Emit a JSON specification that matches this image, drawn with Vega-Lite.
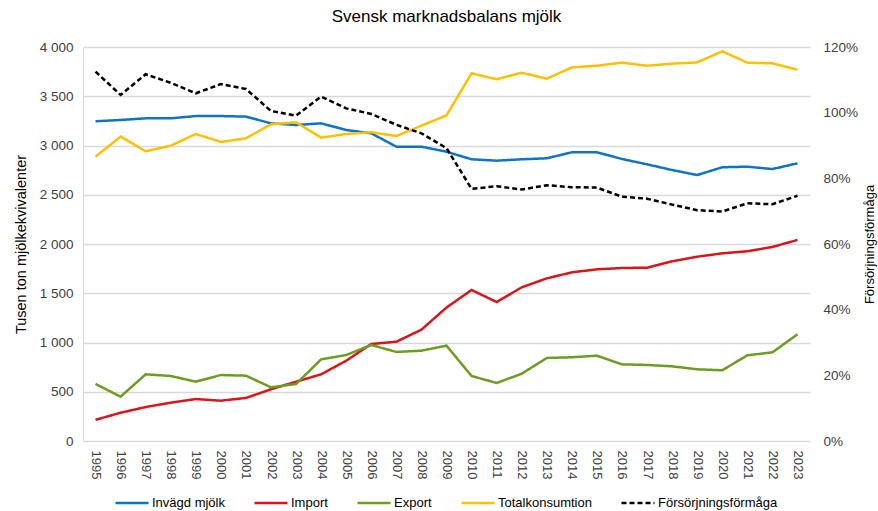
{
  "$schema": "https://vega.github.io/schema/vega-lite/v6.json",
  "width": 727,
  "height": 394,
  "autosize": {"type": "none"},
  "padding": {"left": 83, "top": 47, "right": 68, "bottom": 70},
  "background": "white",
  "title": {"text": "Svensk marknadsbalans mjölk", "fontSize": 17, "fontWeight": "normal", "font": "Liberation Sans", "color": "#000000", "anchor": "middle", "offset": 14},
  "config": {
    "locale": {"number": {"decimal": ",", "thousands": " ", "grouping": [3], "currency": ["", " kr"]}},
    "font": "Liberation Sans",
    "view": {"stroke": null},
    "axis": {"labelFont": "Liberation Sans", "titleFont": "Liberation Sans", "labelFontSize": 13.5, "titleFontSize": 14, "labelColor": "#404040", "titleColor": "#000000", "titleFontWeight": "normal", "ticks": false, "domainColor": "#d9d9d9", "gridColor": "#d9d9d9", "gridWidth": 1.3}
  },
  "data": {"values": [
    {"year":"1995","serie":"Invägd mjölk","value":3246},{"year":"1996","serie":"Invägd mjölk","value":3259},{"year":"1997","serie":"Invägd mjölk","value":3276},{"year":"1998","serie":"Invägd mjölk","value":3276},{"year":"1999","serie":"Invägd mjölk","value":3299},{"year":"2000","serie":"Invägd mjölk","value":3299},{"year":"2001","serie":"Invägd mjölk","value":3293},{"year":"2002","serie":"Invägd mjölk","value":3225},{"year":"2003","serie":"Invägd mjölk","value":3208},{"year":"2004","serie":"Invägd mjölk","value":3225},{"year":"2005","serie":"Invägd mjölk","value":3157},{"year":"2006","serie":"Invägd mjölk","value":3124},{"year":"2007","serie":"Invägd mjölk","value":2988},{"year":"2008","serie":"Invägd mjölk","value":2988},{"year":"2009","serie":"Invägd mjölk","value":2937},{"year":"2010","serie":"Invägd mjölk","value":2860},{"year":"2011","serie":"Invägd mjölk","value":2846},{"year":"2012","serie":"Invägd mjölk","value":2860},{"year":"2013","serie":"Invägd mjölk","value":2870},{"year":"2014","serie":"Invägd mjölk","value":2931},{"year":"2015","serie":"Invägd mjölk","value":2931},{"year":"2016","serie":"Invägd mjölk","value":2863},{"year":"2017","serie":"Invägd mjölk","value":2809},{"year":"2018","serie":"Invägd mjölk","value":2751},{"year":"2019","serie":"Invägd mjölk","value":2700},{"year":"2020","serie":"Invägd mjölk","value":2779},{"year":"2021","serie":"Invägd mjölk","value":2785},{"year":"2022","serie":"Invägd mjölk","value":2761},{"year":"2023","serie":"Invägd mjölk","value":2819},
    {"year":"1995","serie":"Import","value":215},{"year":"1996","serie":"Import","value":287},{"year":"1997","serie":"Import","value":345},{"year":"1998","serie":"Import","value":389},{"year":"1999","serie":"Import","value":426},{"year":"2000","serie":"Import","value":409},{"year":"2001","serie":"Import","value":437},{"year":"2002","serie":"Import","value":525},{"year":"2003","serie":"Import","value":602},{"year":"2004","serie":"Import","value":677},{"year":"2005","serie":"Import","value":815},{"year":"2006","serie":"Import","value":985},{"year":"2007","serie":"Import","value":1008},{"year":"2008","serie":"Import","value":1130},{"year":"2009","serie":"Import","value":1355},{"year":"2010","serie":"Import","value":1533},{"year":"2011","serie":"Import","value":1411},{"year":"2012","serie":"Import","value":1560},{"year":"2013","serie":"Import","value":1651},{"year":"2014","serie":"Import","value":1712},{"year":"2015","serie":"Import","value":1743},{"year":"2016","serie":"Import","value":1756},{"year":"2017","serie":"Import","value":1760},{"year":"2018","serie":"Import","value":1824},{"year":"2019","serie":"Import","value":1871},{"year":"2020","serie":"Import","value":1905},{"year":"2021","serie":"Import","value":1926},{"year":"2022","serie":"Import","value":1970},{"year":"2023","serie":"Import","value":2041},
    {"year":"1995","serie":"Export","value":579},{"year":"1996","serie":"Export","value":450},{"year":"1997","serie":"Export","value":677},{"year":"1998","serie":"Export","value":660},{"year":"1999","serie":"Export","value":602},{"year":"2000","serie":"Export","value":670},{"year":"2001","serie":"Export","value":663},{"year":"2002","serie":"Export","value":545},{"year":"2003","serie":"Export","value":579},{"year":"2004","serie":"Export","value":829},{"year":"2005","serie":"Export","value":873},{"year":"2006","serie":"Export","value":975},{"year":"2007","serie":"Export","value":904},{"year":"2008","serie":"Export","value":917},{"year":"2009","serie":"Export","value":968},{"year":"2010","serie":"Export","value":660},{"year":"2011","serie":"Export","value":589},{"year":"2012","serie":"Export","value":683},{"year":"2013","serie":"Export","value":843},{"year":"2014","serie":"Export","value":850},{"year":"2015","serie":"Export","value":866},{"year":"2016","serie":"Export","value":778},{"year":"2017","serie":"Export","value":772},{"year":"2018","serie":"Export","value":758},{"year":"2019","serie":"Export","value":728},{"year":"2020","serie":"Export","value":718},{"year":"2021","serie":"Export","value":870},{"year":"2022","serie":"Export","value":900},{"year":"2023","serie":"Export","value":1083},
    {"year":"1995","serie":"Totalkonsumtion","value":2887},{"year":"1996","serie":"Totalkonsumtion","value":3090},{"year":"1997","serie":"Totalkonsumtion","value":2941},{"year":"1998","serie":"Totalkonsumtion","value":2998},{"year":"1999","serie":"Totalkonsumtion","value":3117},{"year":"2000","serie":"Totalkonsumtion","value":3036},{"year":"2001","serie":"Totalkonsumtion","value":3073},{"year":"2002","serie":"Totalkonsumtion","value":3215},{"year":"2003","serie":"Totalkonsumtion","value":3235},{"year":"2004","serie":"Totalkonsumtion","value":3080},{"year":"2005","serie":"Totalkonsumtion","value":3117},{"year":"2006","serie":"Totalkonsumtion","value":3134},{"year":"2007","serie":"Totalkonsumtion","value":3096},{"year":"2008","serie":"Totalkonsumtion","value":3201},{"year":"2009","serie":"Totalkonsumtion","value":3306},{"year":"2010","serie":"Totalkonsumtion","value":3733},{"year":"2011","serie":"Totalkonsumtion","value":3672},{"year":"2012","serie":"Totalkonsumtion","value":3739},{"year":"2013","serie":"Totalkonsumtion","value":3678},{"year":"2014","serie":"Totalkonsumtion","value":3793},{"year":"2015","serie":"Totalkonsumtion","value":3810},{"year":"2016","serie":"Totalkonsumtion","value":3841},{"year":"2017","serie":"Totalkonsumtion","value":3810},{"year":"2018","serie":"Totalkonsumtion","value":3831},{"year":"2019","serie":"Totalkonsumtion","value":3844},{"year":"2020","serie":"Totalkonsumtion","value":3956},{"year":"2021","serie":"Totalkonsumtion","value":3841},{"year":"2022","serie":"Totalkonsumtion","value":3834},{"year":"2023","serie":"Totalkonsumtion","value":3770},
    {"year":"1995","serie":"Försörjningsförmåga","value":1.125},{"year":"1996","serie":"Försörjningsförmåga","value":1.054},{"year":"1997","serie":"Försörjningsförmåga","value":1.117},{"year":"1998","serie":"Försörjningsförmåga","value":1.091},{"year":"1999","serie":"Försörjningsförmåga","value":1.059},{"year":"2000","serie":"Försörjningsförmåga","value":1.087},{"year":"2001","serie":"Försörjningsförmåga","value":1.072},{"year":"2002","serie":"Försörjningsförmåga","value":1.005},{"year":"2003","serie":"Försörjningsförmåga","value":0.991},{"year":"2004","serie":"Försörjningsförmåga","value":1.049},{"year":"2005","serie":"Försörjningsförmåga","value":1.013},{"year":"2006","serie":"Försörjningsförmåga","value":0.996},{"year":"2007","serie":"Försörjningsförmåga","value":0.963},{"year":"2008","serie":"Försörjningsförmåga","value":0.937},{"year":"2009","serie":"Försörjningsförmåga","value":0.892},{"year":"2010","serie":"Försörjningsförmåga","value":0.768},{"year":"2011","serie":"Försörjningsförmåga","value":0.776},{"year":"2012","serie":"Försörjningsförmåga","value":0.766},{"year":"2013","serie":"Försörjningsförmåga","value":0.779},{"year":"2014","serie":"Försörjningsförmåga","value":0.773},{"year":"2015","serie":"Försörjningsförmåga","value":0.772},{"year":"2016","serie":"Försörjningsförmåga","value":0.744},{"year":"2017","serie":"Försörjningsförmåga","value":0.738},{"year":"2018","serie":"Försörjningsförmåga","value":0.720},{"year":"2019","serie":"Försörjningsförmåga","value":0.703},{"year":"2020","serie":"Försörjningsförmåga","value":0.699},{"year":"2021","serie":"Försörjningsförmåga","value":0.724},{"year":"2022","serie":"Försörjningsförmåga","value":0.721},{"year":"2023","serie":"Försörjningsförmåga","value":0.747}
  ]},
  "encoding": {
    "x": {"field": "year", "type": "ordinal", "scale": {"type": "point", "padding": 0.5}, "title": null,
      "axis": {"labelAngle": 90, "labelPadding": 9, "domain": false, "grid": false, "labelFontSize": 13}},
    "color": {"field": "serie", "type": "nominal", "title": null,
      "scale": {"domain": ["Invägd mjölk", "Import", "Export", "Totalkonsumtion", "Försörjningsförmåga"], "range": ["#0d74c8", "#d9141b", "#6b9e1f", "#ffc000", "#000000"]},
      "legend": {"orient": "none", "legendX": 31, "legendY": 438, "direction": "horizontal", "symbolType": "stroke", "symbolSize": 1089, "symbolStrokeWidth": 2.5, "labelFontSize": 13, "labelColor": "#000000", "labelFont": "Liberation Sans", "columnPadding": 24, "labelOffset": 2, "title": null}},
    "strokeDash": {"field": "serie", "type": "nominal", "title": null,
      "scale": {"domain": ["Invägd mjölk", "Import", "Export", "Totalkonsumtion", "Försörjningsförmåga"], "range": [[1, 0], [1, 0], [1, 0], [1, 0], [5, 3]]},
      "legend": {"orient": "none", "legendX": 31, "legendY": 438, "direction": "horizontal", "symbolType": "stroke", "symbolSize": 1089, "symbolStrokeWidth": 2.5, "labelFontSize": 13, "labelColor": "#000000", "labelFont": "Liberation Sans", "columnPadding": 24, "labelOffset": 2, "title": null}}
  },
  "layer": [
    {
      "transform": [{"filter": "datum.serie !== 'Försörjningsförmåga'"}],
      "mark": {"type": "line", "strokeWidth": 2.5},
      "encoding": {
        "y": {"field": "value", "type": "quantitative", "scale": {"domain": [0, 4000], "nice": false},
          "axis": {"values": [0, 500, 1000, 1500, 2000, 2500, 3000, 3500, 4000], "format": ",d", "title": "Tusen ton mjölkekvivalenter", "titleFontSize": 14.5, "titlePadding": 11, "labelPadding": 10, "grid": true, "domain": true}}
      }
    },
    {
      "transform": [{"filter": "datum.serie === 'Försörjningsförmåga'"}],
      "mark": {"type": "line", "strokeWidth": 2.5},
      "encoding": {
        "y": {"field": "value", "type": "quantitative", "scale": {"domain": [0, 1.2], "nice": false},
          "axis": {"orient": "right", "values": [0, 0.2, 0.4, 0.6, 0.8, 1.0, 1.2], "format": ".0%", "title": "Försörjningsförmåga", "titleFontSize": 13, "titleAngle": -90, "titlePadding": 19, "labelPadding": 13, "grid": false, "domain": false}}
      }
    }
  ],
  "resolve": {"scale": {"y": "independent"}}
}
